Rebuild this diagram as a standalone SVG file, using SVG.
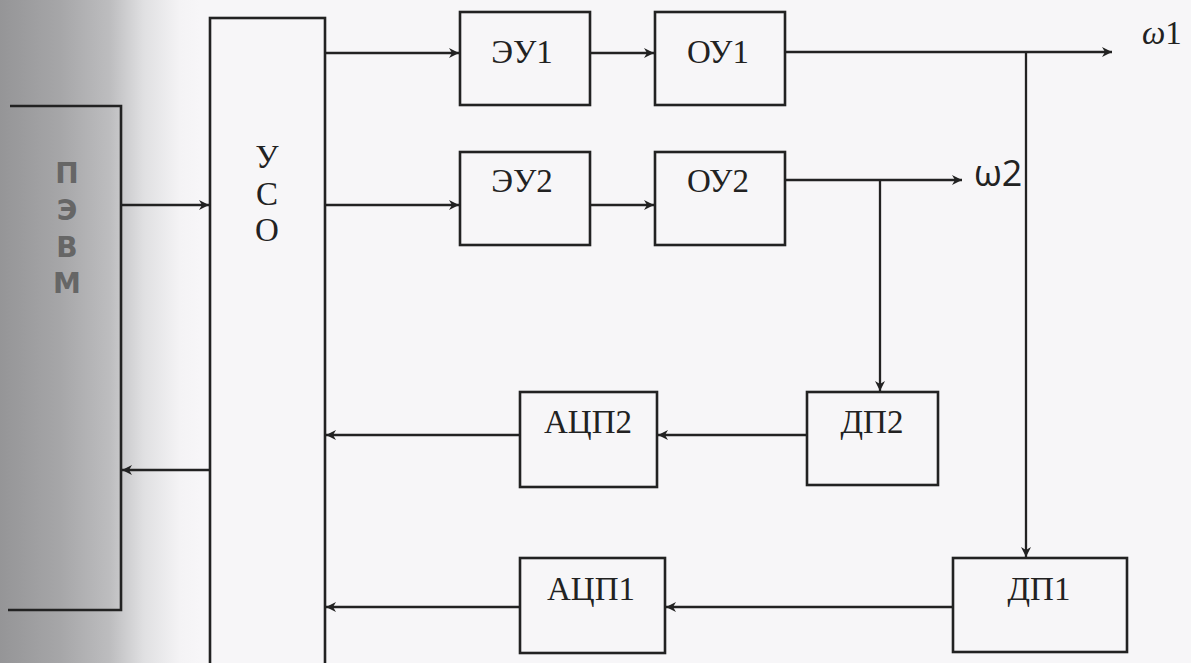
<svg xmlns="http://www.w3.org/2000/svg" width="1191" height="663" viewBox="0 0 1191 663">
<style>
.box{fill:none;stroke:#222;stroke-width:2.6}
.ln{fill:none;stroke:#222;stroke-width:2.3}
.lbl{font-family:"Liberation Serif","Times New Roman",serif;font-size:33px;fill:#222;text-anchor:middle}
.pc{font-family:"DejaVu Sans","Liberation Sans",sans-serif;font-size:28px;font-weight:bold;fill:#666;text-anchor:middle}
</style>
<defs>
<linearGradient id="bg" x1="0" y1="0" x2="1" y2="0">
<stop offset="0" stop-color="#959597"/>
<stop offset="0.3" stop-color="#a6a6a8"/>
<stop offset="0.55" stop-color="#bdbdbf"/>
<stop offset="0.72" stop-color="#e0e0e2"/>
<stop offset="0.9" stop-color="#f4f3f5"/>
<stop offset="1" stop-color="#f7f6f8"/>
</linearGradient>
<marker id="ar" viewBox="0 0 10 10" refX="10" refY="5" markerWidth="13" markerHeight="10" markerUnits="userSpaceOnUse" orient="auto">
<path d="M0,0 L10,5 L0,10 L3,5 Z" fill="#222"/>
</marker>
</defs>
<rect x="0" y="0" width="1191" height="663" fill="#f7f6f8"/>
<rect x="0" y="0" width="200" height="663" fill="url(#bg)"/>

<g id="connectors">
<line class="ln" x1="121" y1="205" x2="209" y2="205" marker-end="url(#ar)"/>
<line class="ln" x1="210" y1="470" x2="122" y2="470" marker-end="url(#ar)"/>
<line class="ln" x1="325" y1="53" x2="459" y2="53" marker-end="url(#ar)"/>
<line class="ln" x1="325" y1="205" x2="459" y2="205" marker-end="url(#ar)"/>
<line class="ln" x1="590" y1="53" x2="654" y2="53" marker-end="url(#ar)"/>
<line class="ln" x1="590" y1="205" x2="654" y2="205" marker-end="url(#ar)"/>
<line class="ln" x1="785" y1="52" x2="1112" y2="52" marker-end="url(#ar)"/>
<line class="ln" x1="1026" y1="52" x2="1026" y2="557" marker-end="url(#ar)"/>
<line class="ln" x1="785" y1="180" x2="962" y2="180" marker-end="url(#ar)"/>
<line class="ln" x1="880" y1="180" x2="880" y2="391" marker-end="url(#ar)"/>
<line class="ln" x1="807" y1="435" x2="658" y2="435" marker-end="url(#ar)"/>
<line class="ln" x1="520" y1="435" x2="326" y2="435" marker-end="url(#ar)"/>
<line class="ln" x1="953" y1="607" x2="666" y2="607" marker-end="url(#ar)"/>
<line class="ln" x1="520" y1="607" x2="326" y2="607" marker-end="url(#ar)"/>
</g>

<g id="pevm">
<path class="box" d="M10,106 L121,106 L121,610 L8,610" stroke="#333"/>
<text class="pc" x="67" y="183">П</text>
<text class="pc" x="67" y="220">Э</text>
<text class="pc" x="67" y="257">В</text>
<text class="pc" x="67" y="293">М</text>
</g>

<g id="uso">
<rect class="box" x="210" y="18" width="115" height="670"/>
<text class="lbl" x="267" y="168" font-size="30">У</text>
<text class="lbl" x="267" y="205" font-size="30">С</text>
<text class="lbl" x="267" y="241" font-size="30">О</text>
</g>

<g id="eu1"><rect class="box" x="460" y="12" width="130" height="93"/><text class="lbl" x="522" y="63">ЭУ1</text></g>
<g id="eu2"><rect class="box" x="460" y="152" width="130" height="93"/><text class="lbl" x="522" y="192">ЭУ2</text></g>
<g id="ou1"><rect class="box" x="655" y="12" width="130" height="93"/><text class="lbl" x="718" y="63">ОУ1</text></g>
<g id="ou2"><rect class="box" x="655" y="152" width="130" height="93"/><text class="lbl" x="718" y="192">ОУ2</text></g>

<g id="w1"><text x="1142" y="44" font-family="Liberation Serif,serif" font-size="33" fill="#222"><tspan font-style="italic">ω</tspan>1</text></g>
<g id="w2"><text x="974" y="186" font-family="Open Sans,Noto Sans,sans-serif" font-size="36" fill="#222">ω2</text></g>

<g id="dp2"><rect class="box" x="807" y="392" width="131" height="93"/><text class="lbl" x="872" y="433">ДП2</text></g>
<g id="adc2"><rect class="box" x="520" y="392" width="137" height="95"/><text class="lbl" x="588" y="433">АЦП2</text></g>
<g id="dp1"><rect class="box" x="953" y="558" width="174" height="94"/><text class="lbl" x="1039" y="600">ДП1</text></g>
<g id="adc1"><rect class="box" x="520" y="558" width="145" height="95"/><text class="lbl" x="591" y="600">АЦП1</text></g>
</svg>
